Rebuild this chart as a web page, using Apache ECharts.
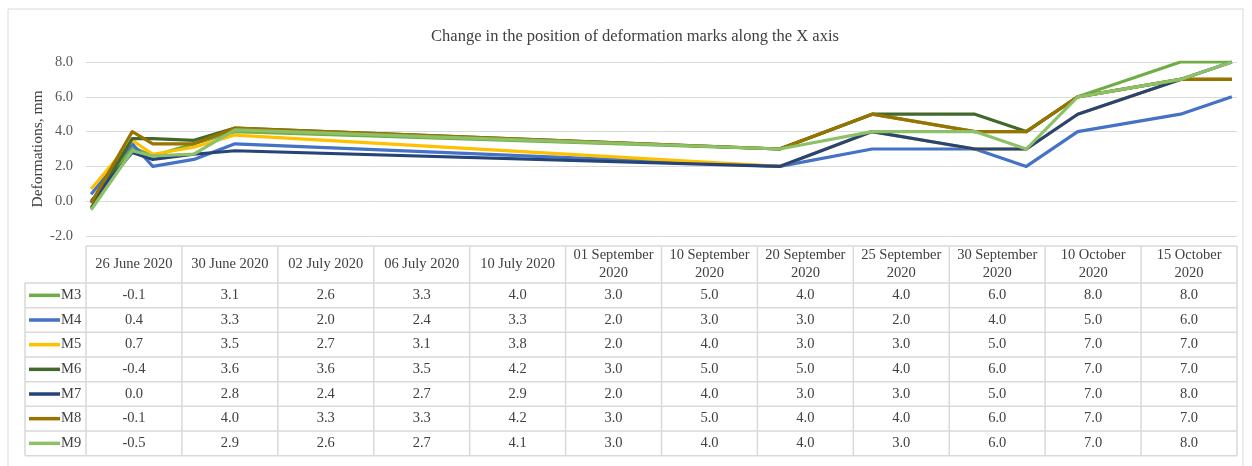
<!DOCTYPE html>
<html>
<head>
<meta charset="utf-8">
<title>Deformation marks X</title>
<script src="https://cdn.jsdelivr.net/npm/echarts@6/dist/echarts.min.js"></script>
<style>
html,body{margin:0;padding:0;background:#fff;}
#chart{width:1252px;height:466px;}
</style>
</head>
<body>
<div id="chart"></div>
<script>
//---- DATA
var Dates     = ["2020-06-26","2020-06-30","2020-07-02","2020-07-06","2020-07-10","2020-09-01","2020-09-10","2020-09-20","2020-09-25","2020-09-30","2020-10-10","2020-10-15"];
var DateNames = ["26 June 2020","30 June 2020","02 July 2020","06 July 2020","10 July 2020","01 September\n2020","10 September\n2020","20 September\n2020","25 September\n2020","30 September\n2020","10 October\n2020","15 October\n2020"];
var Marks  = ["M3","M4","M5","M6","M7","M8","M9"];
var M3 = [-0.1,3.1,2.6,3.3,4.0,3.0,5.0,4.0,4.0,6.0,8.0,8.0];
var M4 = [0.4,3.3,2.0,2.4,3.3,2.0,3.0,3.0,2.0,4.0,5.0,6.0];
var M5 = [0.7,3.5,2.7,3.1,3.8,2.0,4.0,3.0,3.0,5.0,7.0,7.0];
var M6 = [-0.4,3.6,3.6,3.5,4.2,3.0,5.0,5.0,4.0,6.0,7.0,7.0];
var M7 = [0.0,2.8,2.4,2.7,2.9,2.0,4.0,3.0,3.0,5.0,7.0,8.0];
var M8 = [-0.1,4.0,3.3,3.3,4.2,3.0,5.0,4.0,4.0,6.0,7.0,7.0];
var M9 = [-0.5,2.9,2.6,2.7,4.1,3.0,4.0,4.0,3.0,6.0,7.0,8.0];
var YTicks = [-2,0,2,4,6,8];

//---- STYLE
var colorList = ['#70AD47','#4472C4','#FFC000','#43682B','#264478','#997300','#8CC168'];
var FONT      = '"Liberation Serif","Times New Roman",serif';
var TXT       = '#404040';
var LINE_C    = '#d9d9d9';
var DAY       = 24*3600*1000;

// plot box (Excel look)
var PL = 86, PR = 1237, PT = 62, PB = 236;
// data table under the plot
var TAB_TOP = 246, HEAD_H = 37, ROW_H = 24.67, KEY_L = 25;
var COL_W = (PR - PL) / Dates.length;

var allValues = [M3,M4,M5,M6,M7,M8,M9];

function mkSeries(name, vals){
	var d = [];
	for(var i=0;i<Dates.length;i++){
		// Excel date axis puts each point in the middle of its day
		d.push([Date.parse(Dates[i]) + DAY/2, vals[i]]);
	}
	return {
		name: name,
		type: 'line',
		data: d,
		symbol: 'none',
		smooth: false,
		lineStyle: {width: 3.2, join: 'round'},
		animation: false
	};
}

function mkText(x, y, str, align){
	return {
		type: 'text', x: x, y: y, silent: true,
		style: {
			text: str, fill: TXT, font: '14.5px ' + FONT,
			textAlign: align || 'center', textVerticalAlign: 'middle',
			align: align || 'center', verticalAlign: 'middle',
			lineHeight: 18
		}
	};
}

function mkLine(x1, y1, x2, y2, c, w){
	return {
		type: 'line', silent: true,
		shape: {x1: x1, y1: y1, x2: x2, y2: y2},
		style: {stroke: c || LINE_C, lineWidth: w || 1.5}
	};
}

function buildTable(){
	var g = [];
	var rowsTop = TAB_TOP + HEAD_H;
	var bottom  = rowsTop + ROW_H * Marks.length;
	// outer frame of the chart area
	g.push({type: 'rect', silent: true, shape: {x: 8, y: 9, width: 1235, height: 462},
		style: {fill: 'none', stroke: LINE_C, lineWidth: 1}});
	// horizontal rules
	g.push(mkLine(PL, TAB_TOP, PR, TAB_TOP));
	for(var r=0;r<=Marks.length;r++){
		g.push(mkLine(KEY_L, rowsTop + r*ROW_H, PR, rowsTop + r*ROW_H));
	}
	// vertical rules
	g.push(mkLine(KEY_L, rowsTop, KEY_L, bottom));
	for(var c=0;c<=Dates.length;c++){
		g.push(mkLine(PL + c*COL_W, TAB_TOP, PL + c*COL_W, bottom));
	}
	// header
	for(var c=0;c<Dates.length;c++){
		g.push(mkText(PL + (c+0.5)*COL_W, TAB_TOP + HEAD_H/2, DateNames[c]));
	}
	// rows
	for(var r=0;r<Marks.length;r++){
		var cy = rowsTop + (r+0.5)*ROW_H;
		g.push(mkLine(29, cy, 60, cy, colorList[r], 3.5));
		g.push(mkText(61, cy, Marks[r], 'left'));
		for(var c=0;c<Dates.length;c++){
			g.push(mkText(PL + (c+0.5)*COL_W, cy, allValues[r][c].toFixed(1)));
		}
	}
	return g;
}

var MySeries = [];
for(var i=0;i<Marks.length;i++){
	MySeries.push(mkSeries(Marks[i], allValues[i]));
}

var myChart = echarts.init(document.getElementById('chart'));

var option = {
	animation: false,
	color: colorList,
	backgroundColor: '#fff',
	title: {
		text: 'Change in the position of deformation marks along the X axis',
		left: 630,
		textAlign: 'center',
		top: 23,
		textStyle: {fontFamily: FONT, fontSize: 16.5, fontWeight: 'normal', color: TXT}
	},
	grid: {left: PL, right: 1252 - PR, top: PT, bottom: 466 - PB, containLabel: false},
	xAxis: {
		type: 'time',
		min: Date.parse(Dates[0]),
		max: Date.parse(Dates[Dates.length-1]) + DAY,
		axisLine: {show: false},
		axisTick: {show: false},
		axisLabel: {show: false},
		splitLine: {show: false}
	},
	yAxis: {
		type: 'value',
		min: YTicks[0],
		max: YTicks[YTicks.length-1],
		interval: YTicks[1] - YTicks[0],
		name: 'Deformations, mm',
		nameLocation: 'middle',
		nameGap: 40,
		nameMoveOverlap: false,
		nameTextStyle: {fontFamily: FONT, fontSize: 15.5, color: TXT},
		axisLine: {show: false},
		axisTick: {show: false},
		axisLabel: {
			margin: 13,
			fontFamily: FONT, fontSize: 14.5, color: '#595959',
			formatter: function(v){ return v.toFixed(1); }
		},
		splitLine: {show: true, lineStyle: {color: LINE_C, width: 1}}
	},
	graphic: buildTable(),
	series: MySeries
};

myChart.setOption(option);
</script>
</body>
</html>
